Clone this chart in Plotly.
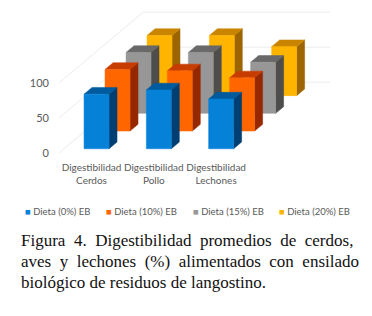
import plotly.graph_objects as go

categories = ["Digestibilidad<br>Cerdos", "Digestibilidad<br>Pollo", "Digestibilidad<br>Lechones"]
series_names = ["Dieta (0%) EB", "Dieta (10%) EB", "Dieta (15%) EB", "Dieta (20%) EB"]
dieta_0 = [78, 84, 71]
dieta_10 = [88, 86, 76]
dieta_15 = [87, 87, 73]
dieta_20 = [86, 86, 70]
y_ticks = [0, 50, 100]
caption_lines = [
    "Figura\u00a0\u00a04.\u00a0\u00a0Digestibilidad\u00a0\u00a0promedios\u00a0\u00a0de\u00a0\u00a0cerdos,",
    "aves\u00a0\u00a0y\u00a0\u00a0lechones\u00a0\u00a0(%)\u00a0\u00a0alimentados\u00a0\u00a0con\u00a0\u00a0ensilado",
    "biológico de residuos de langostino.",
]
series_values = [dieta_0, dieta_10, dieta_15, dieta_20]

PAGE = 8             # page body margin around the figure
W, H = 372 - PAGE, 316 - PAGE
PX_X = 62.3          # pixels per category
PX_Y = 0.7           # pixels per value unit
X0_PX = 91.5 - PAGE  # pixel centre of category 0 on the front plane
Y0_PX = 153 - PAGE   # pixel of value 0
STEP_X = 21 / PX_X   # depth step in x units
STEP_Y = 17.7 / PX_Y # depth step in y units
BAR_W = 25 / PX_X
BAR_D = 0.38
BASE_D = 0.24
LEFT_PX, BOTTOM_PX = 50 - PAGE, 160 - PAGE

front = ["#0582d8", "#ff6600", "#979797", "#ffb500"]
top = ["#005a9e", "#c73c00", "#696969", "#c98500"]
side = ["#003f73", "#962800", "#4d4d4d", "#9c6500"]
legend_x_px = [22.5, 103.5, 190.5, 276.5]

fig = go.Figure()


def proj(x, depth, v):
    return x + depth * STEP_X, v + depth * STEP_Y


def poly(pts, color):
    fig.add_trace(go.Scatter(
        x=[p[0] for p in pts] + [pts[0][0]], y=[p[1] for p in pts] + [pts[0][1]],
        mode="lines", fill="toself", fillcolor=color, line=dict(color=color, width=0.5),
        hoverinfo="skip", showlegend=False))


# wall/floor gridlines
xl = (59 - PAGE - X0_PX) / PX_X
xr = (330 - PAGE - X0_PX) / PX_X
for v in y_ticks:
    cx, cy = proj(xl, 4, v)
    fig.add_trace(go.Scatter(x=[xl, cx, xr], y=[v, cy, cy], mode="lines",
                             line=dict(color="#ececec", width=1),
                             hoverinfo="skip", showlegend=False))

# bars, painted back to front
for s in range(3, -1, -1):
    d0 = s + BASE_D
    for c, v in enumerate(series_values[s]):
        xa = c - BAR_W / 2
        xb = c + BAR_W / 2
        d1 = d0 + BAR_D
        a = proj(xa, d0, 0); b = proj(xb, d0, 0)
        e = proj(xa, d0, v); f = proj(xb, d0, v)
        g = proj(xb, d1, v); h = proj(xa, d1, v); i = proj(xb, d1, 0)
        poly([b, f, g, i], side[s])
        poly([e, f, g, h], top[s])
        poly([a, b, f, e], front[s])

fig.update_layout(
    width=W, height=H, margin=dict(l=0, r=0, t=0, b=0),
    paper_bgcolor="white", plot_bgcolor="white",
    font=dict(family="Lato", color="#595959", size=10),
    xaxis=dict(domain=[LEFT_PX / W, 1],
               range=[(LEFT_PX - X0_PX) / PX_X, (W - X0_PX) / PX_X],
               tickmode="array", tickvals=list(range(3)), ticktext=categories,
               tickangle=0, tickfont=dict(size=10, family="Lato", color="#595959"),
               showgrid=False, zeroline=False, showline=False, ticks=""),
    yaxis=dict(domain=[1 - BOTTOM_PX / H, 1],
               range=[(Y0_PX - BOTTOM_PX) / PX_Y, Y0_PX / PX_Y],
               tickmode="array", tickvals=y_ticks,
               tickfont=dict(size=11, family="Lato", color="#595959"),
               showgrid=False, zeroline=False, showline=False, ticks=""),
    showlegend=False,
)

for name, color, x_px in zip(series_names, front, legend_x_px):
    fig.add_annotation(text=f'<span style="color:{color}">■</span> {name}',
                       xref="paper", yref="paper", x=(x_px - PAGE) / W, y=1 - (211 - PAGE) / H,
                       xanchor="left", yanchor="middle", showarrow=False,
                       font=dict(family="Lato", size=9.5, color="#595959"))

for line, y_px in zip(caption_lines, [241, 261, 282]):
    fig.add_annotation(text=line, xref="paper", yref="paper", x=(19 - PAGE) / W, y=1 - (y_px - PAGE) / H,
                       xanchor="left", yanchor="middle", showarrow=False,
                       font=dict(family="Liberation Serif", size=17, color="#111111"))

fig.write_html("out.html")
